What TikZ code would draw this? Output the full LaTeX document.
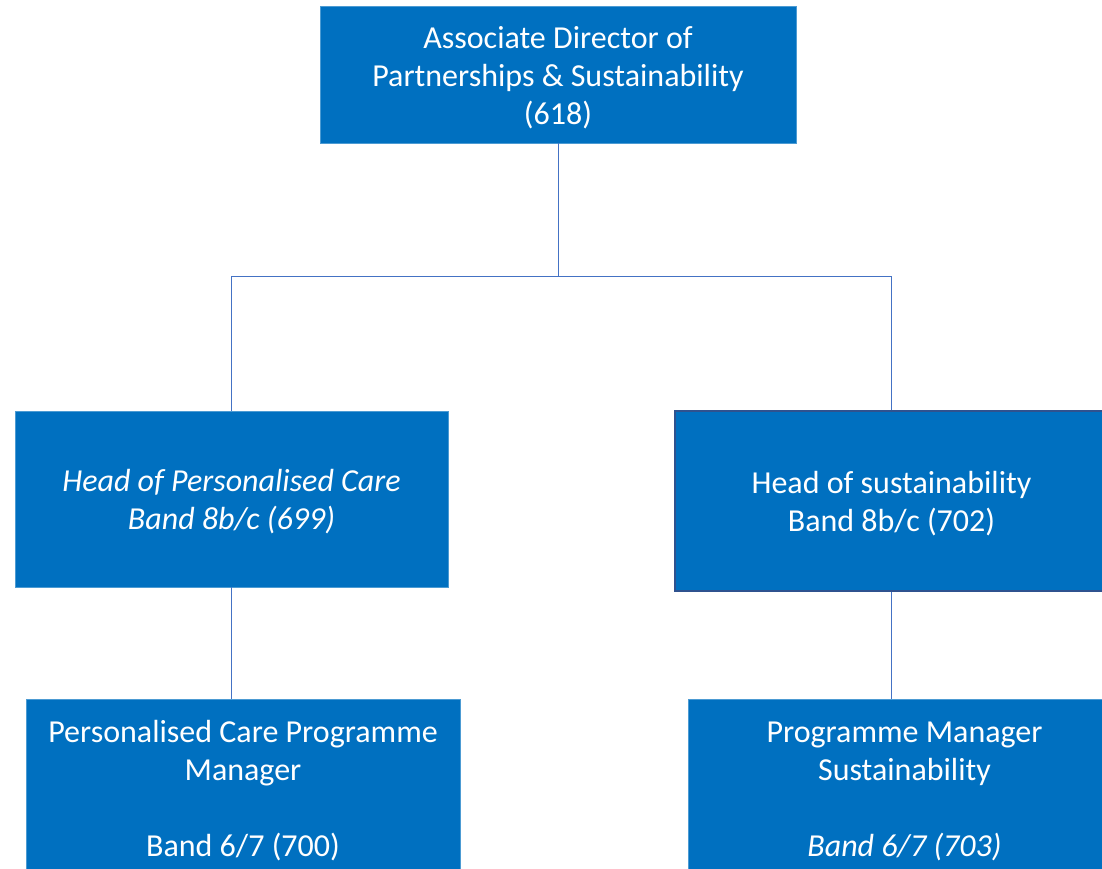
\documentclass[tikz,border=0pt]{standalone}
\usepackage{fontspec}
\setmainfont{Carlito}
\usepackage{tikz}
\definecolor{boxblue}{HTML}{0070C0}
\definecolor{edgeblue}{HTML}{2F528F}
\definecolor{linkblue}{HTML}{4472C4}
\newcommand{\topgap}{\rule{0pt}{28pt}}
\tikzset{
  post/.style={rectangle, fill=boxblue, draw=boxblue!70!white, line width=0.5pt,
    text=white, align=center, inner sep=0pt,
    font=\fontsize{32}{38}\selectfont},
  link/.style={draw=linkblue, line width=1pt}
}

\begin{document}
\begin{tikzpicture}[x=1pt, y=1pt]
  \clip (0,0) rectangle (1102,-869);
  \fill[white] (0,0) rectangle (1102,-869);
  % boxes
  \node [post, minimum width=476, minimum height=137] (director) at (558,-74.5)
    {\topgap Associate Director of\\Partnerships \& Sustainability\\(618)};
  \node [post, minimum width=433, minimum height=176] (headcare) at (231.5,-499)
    {\topgap\itshape Head of Personalised Care\\\itshape Band 8b/c (699)};
  \node [post, draw=edgeblue, line width=2pt, minimum width=433, minimum height=180] (headsust) at (891.5,-501)
    {\topgap Head of sustainability\\Band 8b/c (702)};
  \node [post, minimum width=434, minimum height=177] (caremgr) at (243,-787.5)
    {\topgap Personalised Care Programme\\Manager\\[38pt]Band 6/7 (700)};
  \node [post, minimum width=433, minimum height=177] (sustmgr) at (904.5,-787.5)
    {\topgap Programme Manager\\Sustainability\\[38pt]\itshape Band 6/7 (703)};
  % connectors
  \coordinate (bus) at (558,-276);
  \draw [link] (director.south) -- (bus);
  \draw [link] (bus) -| (headcare.north);
  \draw [link] (bus) -| (headsust.north);
  \draw [link] (headcare.south) -- (headcare.south |- caremgr.north);
  \draw [link] (headsust.south) -- (headsust.south |- sustmgr.north);
\end{tikzpicture}
\end{document}
